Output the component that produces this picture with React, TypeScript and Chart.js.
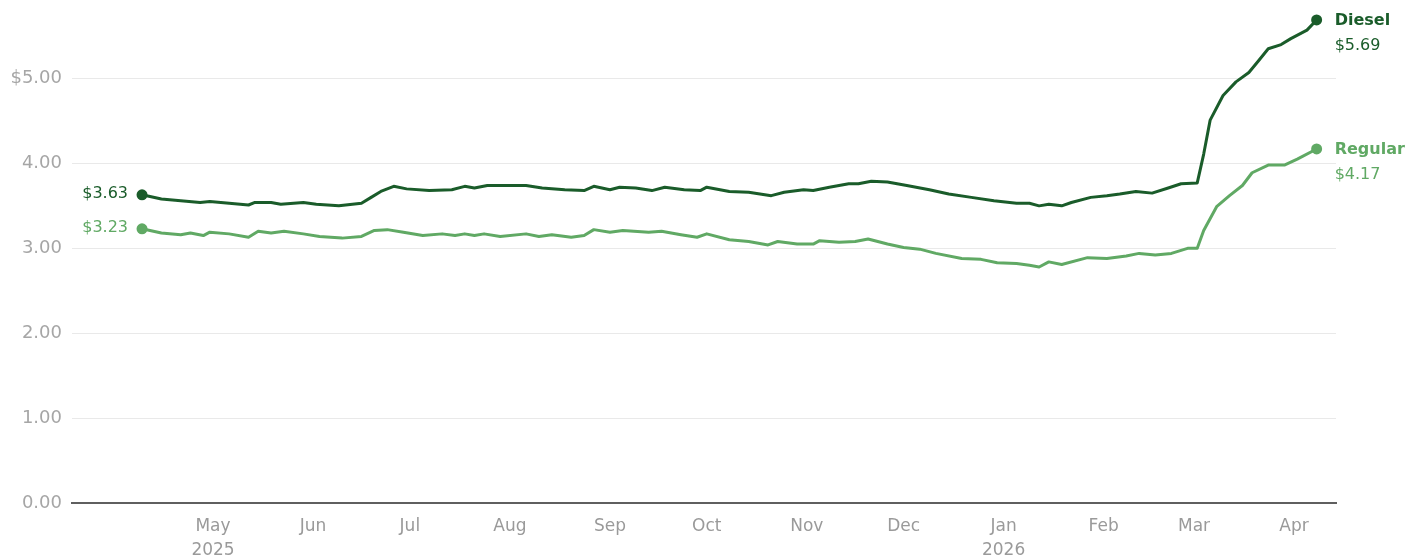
import { useEffect, useRef } from 'react';
import { Chart, registerables } from 'chart.js';

Chart.register(...registerables);

// Day 0 = 2025-04-09 (x values are days since that date)
const monthTickDays = [22, 53, 83, 114, 145, 175, 206, 236, 267, 298, 326, 357];
const monthTickLabels: (string | string[])[] = [
  ['May', '2025'], 'Jun', 'Jul', 'Aug', 'Sep', 'Oct', 'Nov', 'Dec', ['Jan', '2026'], 'Feb', 'Mar', 'Apr',
];
const yTickValues = [0, 1, 2, 3, 4, 5];

const dieselDays = [
  0, 6, 12, 18, 21, 27, 33, 35, 40, 43, 50, 54, 61, 68, 71, 74, 78, 82, 89, 96,
  100, 103, 107, 113, 119, 124, 131, 137, 140, 145, 148, 153, 158, 162, 168, 173, 175, 182, 188, 195,
  199, 205, 208, 213, 219, 222, 226, 231, 237, 244, 250, 257, 264, 271, 275, 278, 281, 285, 288, 294,
  299, 303, 308, 313, 318, 322, 327, 329, 331, 335, 339, 343, 346, 349, 353, 356, 361, 364,
];
const dieselPrices = [
  3.63, 3.58, 3.56, 3.54, 3.55, 3.53, 3.51, 3.54, 3.54, 3.52, 3.54, 3.52, 3.50, 3.53, 3.60, 3.67, 3.73, 3.70, 3.68, 3.69,
  3.73, 3.71, 3.74, 3.74, 3.74, 3.71, 3.69, 3.68, 3.73, 3.69, 3.72, 3.71, 3.68, 3.72, 3.69, 3.68, 3.72, 3.67, 3.66, 3.62,
  3.66, 3.69, 3.68, 3.72, 3.76, 3.76, 3.79, 3.78, 3.74, 3.69, 3.64, 3.60, 3.56, 3.53, 3.53, 3.50, 3.52, 3.50, 3.54, 3.60,
  3.62, 3.64, 3.67, 3.65, 3.71, 3.76, 3.77, 4.11, 4.51, 4.80, 4.96, 5.07, 5.21, 5.35, 5.40, 5.47, 5.57, 5.69,
];

const regularDays = [
  0, 6, 12, 15, 19, 21, 27, 33, 36, 40, 44, 50, 55, 62, 68, 72, 76, 81, 87, 93,
  97, 100, 103, 106, 111, 119, 123, 127, 133, 137, 140, 145, 149, 157, 161, 167, 172, 175, 182, 188,
  194, 197, 203, 208, 210, 216, 221, 225, 231, 236, 241, 246, 254, 260, 265, 271, 275, 278, 281, 285,
  293, 299, 305, 309, 314, 319, 324, 327, 329, 333, 337, 341, 344, 349, 354, 358, 364,
];
const regularPrices = [
  3.23, 3.18, 3.16, 3.18, 3.15, 3.19, 3.17, 3.13, 3.20, 3.18, 3.20, 3.17, 3.14, 3.12, 3.14, 3.21, 3.22, 3.19, 3.15, 3.17,
  3.15, 3.17, 3.15, 3.17, 3.14, 3.17, 3.14, 3.16, 3.13, 3.15, 3.22, 3.19, 3.21, 3.19, 3.20, 3.16, 3.13, 3.17, 3.10, 3.08,
  3.04, 3.08, 3.05, 3.05, 3.09, 3.07, 3.08, 3.11, 3.05, 3.01, 2.99, 2.94, 2.88, 2.87, 2.83, 2.82, 2.80, 2.78, 2.84, 2.81,
  2.89, 2.88, 2.91, 2.94, 2.92, 2.94, 3.00, 3.00, 3.21, 3.49, 3.62, 3.74, 3.89, 3.98, 3.98, 4.05, 4.17,
];

const DIESEL_COLOR = '#1a5c2a';
const REGULAR_COLOR = '#60a964';
const FONT = '"DejaVu Sans", sans-serif';

const endLabels = {
  id: 'endLabels',
  afterDatasetsDraw(chart: any) {
    const ctx = chart.ctx;
    chart.data.datasets.forEach((ds: any, i: number) => {
      const pts = chart.getDatasetMeta(i).data;
      const first = pts[0];
      const last = pts[pts.length - 1];
      const data = ds.data;
      ctx.save();
      ctx.fillStyle = ds.borderColor;
      ctx.textBaseline = 'middle';
      ctx.font = `16px ${FONT}`;
      ctx.textAlign = 'right';
      ctx.fillText('$' + data[0].y.toFixed(2), first.x - 14, first.y - 1);
      ctx.textAlign = 'left';
      ctx.font = `bold 16px ${FONT}`;
      ctx.fillText(ds.label, last.x + 18, last.y + 1);
      ctx.font = `16px ${FONT}`;
      ctx.fillText('$' + data[data.length - 1].y.toFixed(2), last.x + 18, last.y + 26);
      ctx.restore();
    });
  },
};

function makeDataset(label: string, days: number[], prices: number[], color: string) {
  const n = days.length;
  return {
    label,
    data: days.map((d, i) => ({ x: d, y: prices[i] })),
    borderColor: color,
    backgroundColor: color,
    borderWidth: 3,
    borderJoinStyle: 'round' as const,
    tension: 0,
    pointRadius: (c: any) => (c.dataIndex === 0 || c.dataIndex === n - 1 ? 5.5 : 0),
    pointBackgroundColor: color,
    pointBorderWidth: 0,
    clip: false as any,
  };
}

export default function App() {
  const ref = useRef<HTMLCanvasElement>(null);
  useEffect(() => {
    if (!ref.current) return;
    Chart.defaults.font.family = FONT;
    const chart = new Chart(ref.current, {
      type: 'line',
      data: {
        datasets: [
          makeDataset('Diesel', dieselDays, dieselPrices, DIESEL_COLOR),
          makeDataset('Regular', regularDays, regularPrices, REGULAR_COLOR),
        ],
      },
      options: {
        animation: false,
        responsive: true,
        maintainAspectRatio: false,
        layout: { padding: { left: 0, right: 89, top: 0, bottom: 0 } },
        plugins: { legend: { display: false }, tooltip: { enabled: false } },
        scales: {
          x: {
            type: 'linear',
            min: -21.7,
            max: 370,
            afterBuildTicks: (s: any) => {
              s.ticks = monthTickDays.map((v) => ({ value: v }));
            },
            afterFit: (s: any) => {
              s.height = 56;
              s.paddingLeft = 0;
              s.paddingRight = 0;
            },
            ticks: {
              autoSkip: false,
              maxRotation: 0,
              minRotation: 0,
              padding: 12,
              color: '#9a9a9a',
              font: { size: 17, lineHeight: 1.4 },
              callback: (_v: any, i: number) => monthTickLabels[i],
            },
            grid: { display: false, drawTicks: false },
            border: { display: true, color: '#5f5f5f', width: 2 },
          },
          y: {
            min: 0,
            max: 5.86,
            afterBuildTicks: (s: any) => {
              s.ticks = yTickValues.map((v) => ({ value: v }));
            },
            afterFit: (s: any) => {
              s.width = 72;
              s.paddingTop = 0;
              s.paddingBottom = 0;
            },
            ticks: {
              padding: 10,
              color: '#a6a6a6',
              font: { size: 18 },
              callback: (v: any) => (v === 5 ? '$5.00' : Number(v).toFixed(2)),
            },
            grid: {
              drawTicks: false,
              color: (c: any) => (c.tick && c.tick.value === 0 ? 'rgba(0,0,0,0)' : '#e9e9e9'),
              lineWidth: 1,
            },
            border: { display: false },
          },
        },
      },
      plugins: [endLabels],
    });
    return () => chart.destroy();
  }, []);
  return (
    <div style={{ position: 'fixed', left: 0, top: 0, width: 1425, height: 559 }}>
      <canvas ref={ref} />
    </div>
  );
}
